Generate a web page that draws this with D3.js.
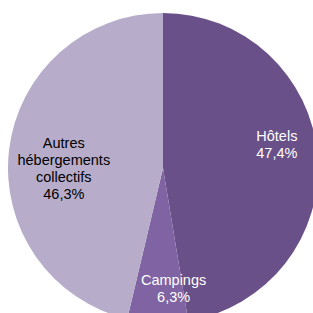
<!DOCTYPE html>
<html>
<head>
<meta charset="utf-8">
<script src="https://cdn.jsdelivr.net/npm/d3@7"></script>
<style>
    html, body { margin: 0; padding: 0; background: #fff; }
    svg { display: block; }
</style>
</head>
<body>
<div id="chart"></div>
<script>
// data
const categories = ["Hôtels", "Campings", "Autres hébergements collectifs"];
const labelLines = [["Hôtels"], ["Campings"], ["Autres", "hébergements", "collectifs"]];
const shares = [47.4, 6.3, 46.3];
const colors = ["#6a5088", "#8063a2", "#b7adca"];
const textColors = ["#ffffff", "#ffffff", "#000000"];

const width = 313, height = 313;
const cx = 163, cy = 168, radius = 155;
// label placement (fraction of radius), tuned per slice
const labelRadius = [0.75, 0.78, 0.64];
const labelAngleShift = -7 * Math.PI / 180;
const lineH = 17;

const svg = d3.select("#chart").append("svg")
    .attr("width", width)
    .attr("height", height);

const g = svg.append("g")
    .attr("transform", "translate(" + cx + "," + cy + ")");

const data = categories.map((c, i) => ({name: c, value: shares[i], idx: i}));

const pie = d3.pie().sort(null).value(d => d.value);
const arc = d3.arc().innerRadius(0).outerRadius(radius);
const arcs = pie(data);

g.selectAll("path.slice")
    .data(arcs)
    .enter().append("path")
    .attr("class", "slice")
    .attr("d", arc)
    .attr("fill", d => colors[d.data.idx]);

function fmt(v) {
    return d3.format(".1f")(v).replace(".", ",") + "%";
}

arcs.forEach(d => {
    let i = d.data.idx;
    let mid = (d.startAngle + d.endAngle) / 2 + labelAngleShift;
    let r = radius * labelRadius[i];
    let x = Math.sin(mid) * r;
    let y = -Math.cos(mid) * r;
    let lines = labelLines[i].concat([fmt(shares[i])]);
    let first = y - (lines.length - 1) * lineH / 2 + 5;
    let t = g.append("text")
        .attr("text-anchor", "middle")
        .style("font-family", "Liberation Sans, Arial, sans-serif")
        .style("font-size", "14.5px")
        .attr("fill", textColors[i]);
    lines.forEach((l, k) => {
        t.append("tspan")
            .attr("x", x)
            .attr("y", first + k * lineH)
            .text(l);
    });
});
</script>
</body>
</html>
